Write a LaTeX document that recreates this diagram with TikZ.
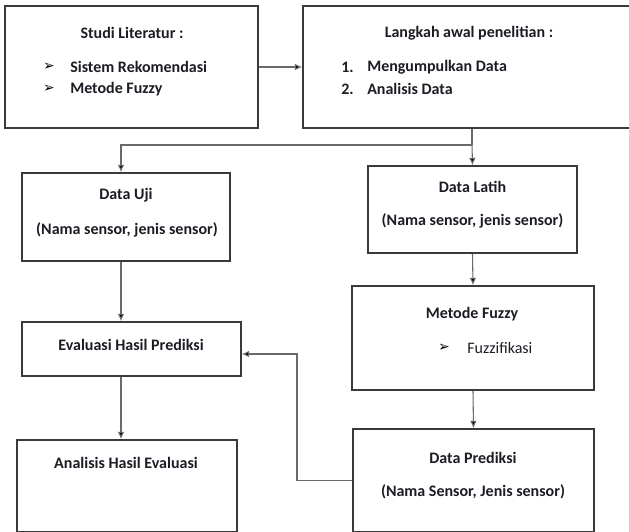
\documentclass[tikz,border=0pt]{standalone}
\usepackage{fontspec}
\setmainfont{Carlito}
\newfontfamily\symfont{DejaVu Sans}
\usetikzlibrary{fit,arrows.meta}
\definecolor{boxline}{HTML}{3A3A3A}
\definecolor{conn}{HTML}{6A6A6A}
\definecolor{txt}{HTML}{1C1C24}
\tikzset{
  box/.style={draw=boxline, line width=1.3pt, inner sep=0pt, rectangle},
  lbl/.style={font=\fontsize{12}{14}\selectfont\bfseries, text=txt, inner sep=0pt},
  lblleft/.style={lbl, anchor=west},
  bul/.style={font=\fontsize{10.5}{12}\selectfont\symfont, text=black, inner sep=0pt},
  conline/.style={draw=conn, line width=0.8pt},
  arr/.style={conline, -{Latex[length=5.5pt,width=5pt,fill=black]}},
}
\begin{document}
\begin{tikzpicture}[x=0.75pt,y=-0.75pt]
\useasboundingbox (0,0) rectangle (629,532);
\clip (0,0) rectangle (629,532);
\fill[white] (0,0) rectangle (629,532);
% boxes
\node[box, fit={(5,6)(258,128)}] (studi) {};
\node[box, fit={(303,6)(641,128)}] (langkah) {};
\node[box, fit={(22,173)(230,261)}] (uji) {};
\node[box, fit={(368,166)(577,253)}] (latih) {};
\node[box, fit={(352,286)(594,390)}] (fuzzy) {};
\node[box, fit={(353,429)(594,532)}] (prediksi) {};
\node[box, fit={(22,322)(241,376)}] (evaluasi) {};
\node[box, fit={(17,440)(237,532)}] (analisis) {};
% texts
\node[lbl] (t1) at (132,33) {Studi Literatur :};
\node[bul] (b1) at (49,67) {➢};
\node[lblleft] (t1a) at (70,67) {Sistem Rekomendasi};
\node[bul] (b2) at (49,89) {➢};
\node[lblleft] (t1b) at (70,89) {Metode Fuzzy};
\node[lbl] (t2) at (469,33) {Langkah awal penelitian :};
\node[lblleft] (n1) at (341,67) {1.};
\node[lblleft] (t2a) at (367,67) {Mengumpulkan Data};
\node[lblleft] (n2) at (341,89) {2.};
\node[lblleft] (t2b) at (367,89) {Analisis Data};
\node[lbl] (t3) at (126,195) {Data Uji};
\node[lbl] (t3a) at (127,230) {(Nama sensor, jenis sensor)};
\node[lbl] (t4) at (472.5,187) {Data Latih};
\node[lbl] (t4a) at (472.5,221) {(Nama sensor, jenis sensor)};
\node[lbl] (t5) at (472,314) {Metode Fuzzy};
\node[bul] (b3) at (444,348) {➢};
\node[lblleft, font=\fontsize{12}{14}\selectfont] (t5a) at (467,348) {Fuzzifikasi};
\node[lbl] (t6) at (131,345) {Evaluasi Hasil Prediksi};
\node[lbl] (t7) at (126,463) {Analisis Hasil Evaluasi};
\node[lbl] (t8) at (473,458) {Data Prediksi};
\node[lbl] (t8a) at (473,492) {(Nama Sensor, Jenis sensor)};
% connectors
\coordinate (split) at (472,145);
\coordinate (xl) at (121,0);
\coordinate (fb) at (297,354);
\draw[arr] (studi.east) -- (langkah.west);
\draw[conline] (langkah.south) -- (split);
\draw[arr] (split) -- (latih.north);
\draw[arr] (split) -| (uji.north -| xl);
\draw[arr] (latih.south) -- (fuzzy.north);
\draw[arr] (fuzzy.south) -- (prediksi.north);
\draw[arr] (uji.south -| xl) -- (evaluasi.north -| xl);
\draw[arr] (evaluasi.south -| xl) -- (analisis.north -| xl);
\draw[arr] (prediksi.west) -| (fb) -- (evaluasi.east |- fb);
\end{tikzpicture}
\end{document}
